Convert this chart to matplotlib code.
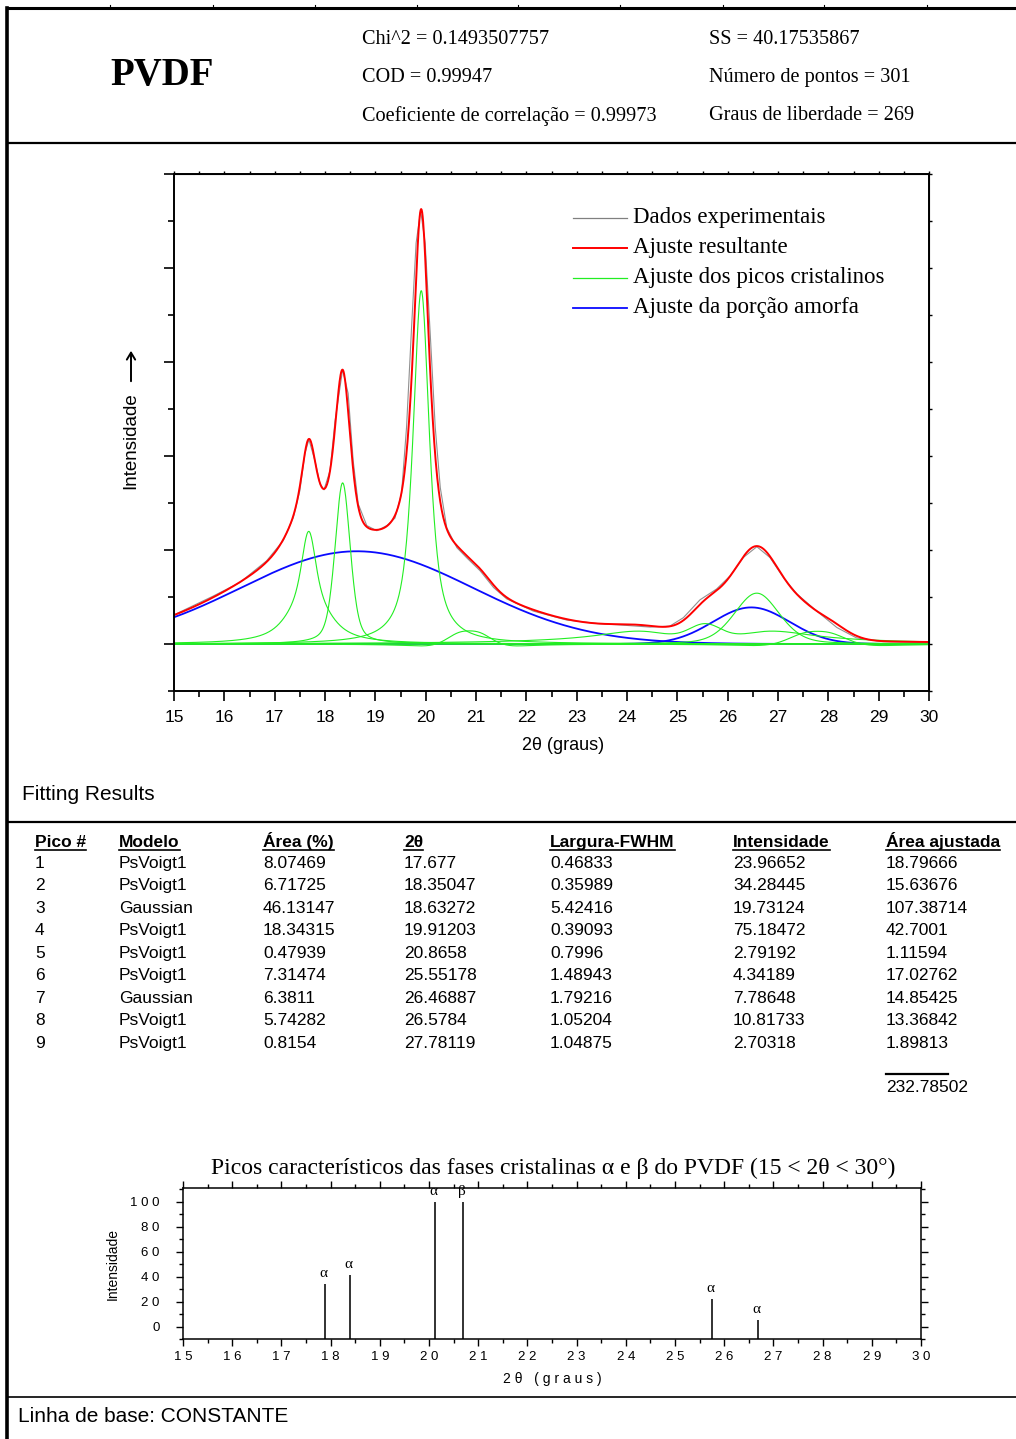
import numpy as np
import matplotlib
matplotlib.use("Agg")
import matplotlib.pyplot as plt
from matplotlib.lines import Line2D
from matplotlib.ticker import MultipleLocator, FuncFormatter

W, H = 1016, 1439
SERIF = ["Liberation Serif", "DejaVu Serif"]
SANS = ["Liberation Sans", "DejaVu Sans"]

# --- resultados do ajuste (tabela) ---
pico = [1, 2, 3, 4, 5, 6, 7, 8, 9]
modelo = ["PsVoigt1", "PsVoigt1", "Gaussian", "PsVoigt1", "PsVoigt1",
          "PsVoigt1", "Gaussian", "PsVoigt1", "PsVoigt1"]
area_pct = [8.07469, 6.71725, 46.13147, 18.34315, 0.47939, 7.31474, 6.3811, 5.74282, 0.8154]
centro = [17.677, 18.35047, 18.63272, 19.91203, 20.8658, 25.55178, 26.46887, 26.5784, 27.78119]
fwhm = [0.46833, 0.35989, 5.42416, 0.39093, 0.7996, 1.48943, 1.79216, 1.05204, 1.04875]
altura = [23.96652, 34.28445, 19.73124, 75.18472, 2.79192, 4.34189, 7.78648, 10.81733, 2.70318]
area_aj = [18.79666, 15.63676, 107.38714, 42.7001, 1.11594, 17.02762, 14.85425, 13.36842, 1.89813]
area_total = 232.78502

exp_2theta = [15.0, 15.78, 16.31, 16.84, 17.17, 17.37, 17.50, 17.60, 17.68, 17.80,
              17.90, 17.98, 18.10, 18.20, 18.35, 18.46, 18.56, 18.66, 18.83, 19.03,
              19.23, 19.39, 19.52, 19.62, 19.72, 19.81, 19.90, 19.99, 20.09, 20.19,
              20.29, 20.42, 20.62, 20.82, 21.08, 21.35, 21.61, 22.14, 22.80, 23.46,
              23.80, 24.46, 24.85, 25.12, 25.45, 25.78, 26.05, 26.31, 26.58, 26.84,
              27.11, 27.37, 27.77, 28.17, 28.56, 29.09, 29.89, 30.0]
exp_int = [6.2, 10.2, 13.1, 17.7, 22.0, 26.9, 32.6, 40.5, 43.5, 39.0,
           34.1, 32.8, 36.9, 47.5, 58.4, 53.3, 39.0, 29.8, 25.2, 24.1,
           25.2, 26.8, 32.0, 46.1, 67.4, 85.3, 92.2, 85.3, 66.1, 46.1,
           33.3, 24.7, 20.5, 18.3, 15.6, 12.0, 9.6, 7.0, 5.1, 4.3,
           4.1, 3.6, 3.8, 5.6, 9.4, 11.7, 14.5, 18.4, 20.7, 18.4,
           14.1, 10.7, 7.0, 3.5, 1.3, 0.5, 0.3, 0.3]

# --- picos de referencia alfa / beta ---
fase_pos = [17.89, 18.39, 20.12, 20.69, 25.75, 26.69]
fase_int = [34, 41, 100, 100, 22, 5]
fase_lbl = ["α", "α", "α", "β", "α", "α"]

stats_esq = ["Chi^2 = 0.1493507757", "COD = 0.99947", "Coeficiente de correlação = 0.99973"]
stats_dir = ["SS = 40.17535867", "Número de pontos = 301", "Graus de liberdade = 269"]


def fx(px):
    return px / W


def fy(py):
    return 1 - py / H


def linha(x0, y0, x1, y1, lw=1.5):
    fig.add_artist(Line2D([fx(x0), fx(x1)], [fy(y0), fy(y1)], color="black", lw=lw))


def texto(x, y, s, **kw):
    kw.setdefault("va", "center")
    return fig.text(fx(x), fy(y), s, **kw)


fig = plt.figure(figsize=(W / 100, H / 100), dpi=100)

# moldura
linha(8, 8, W, 8, 2.2)
linha(7, 8, 7, H, 2.6)
linha(8, 143, W, 143, 1.6)
linha(8, 822, W, 822, 1.6)
linha(8, 1397, W, 1397, 1.2)
for xm in [110, 213, 315, 417, 518, 620, 723, 824, 927]:
    linha(xm, 5, xm, 8, 0.8)

# cabecalho
texto(110, 76, "PVDF", family=SERIF, fontsize=28, fontweight="bold")
for i, s in enumerate(stats_esq):
    texto(362, 39 + i * 38.5, s, family=SERIF, fontsize=14.6)
for i, s in enumerate(stats_dir):
    texto(709, 39 + i * 38.5, s, family=SERIF, fontsize=14.6)

# --- grafico principal ---
x = np.linspace(15, 30, 1501)
cristalinos = []
amorfo = []
for m, xc, w, h, a in zip(modelo, centro, fwhm, altura, area_aj):
    g = np.exp(-4 * np.log(2) * ((x - xc) / w) ** 2)
    if m == "Gaussian":
        amorfo.append(h * g)
    else:
        lz = 1 / (1 + 4 * ((x - xc) / w) ** 2)
        IL = np.trapezoid(lz, x)
        IG = np.trapezoid(g, x)
        mu = (a / h - IG) / (IL - IG)
        cristalinos.append(h * (mu * lz + (1 - mu) * g))
total = np.sum(cristalinos, axis=0) + np.sum(amorfo, axis=0)

ax = fig.add_axes([fx(174), fy(691), fx(929 - 174), (691 - 174) / H])
for y in amorfo:
    ax.plot(x, y, color="#0a0aff", lw=1.3)
for y in cristalinos:
    ax.plot(x, y, color="#22ee22", lw=0.8)
ax.plot(exp_2theta, exp_int, color="#909090", lw=0.8)
ax.plot(x, total, color="#ff0000", lw=1.4)

ax.set_xlim(15, 30)
ax.set_ylim(-10, 100)
ax.xaxis.set_major_locator(MultipleLocator(1))
ax.xaxis.set_minor_locator(MultipleLocator(0.5))
ax.yaxis.set_major_locator(MultipleLocator(20))
ax.yaxis.set_minor_locator(MultipleLocator(10))
ax.set_yticklabels([])
ax.tick_params(which="major", direction="out", length=7.5, width=1.2)
ax.tick_params(which="minor", direction="out", length=4.5, width=1.2)
ax.tick_params(axis="x", labelsize=12.5, pad=6)
for lab in ax.get_xticklabels():
    lab.set_family(SANS)
for sp in ax.spines.values():
    sp.set_linewidth(1.4)
sx = ax.secondary_xaxis("top")
sx.xaxis.set_major_locator(MultipleLocator(0.5))
sx.tick_params(direction="out", length=2.5, width=1, labeltop=False)
sy = ax.secondary_yaxis("right")
sy.yaxis.set_major_locator(MultipleLocator(10))
sy.tick_params(direction="out", length=2.5, width=1, labelright=False)
ax.set_xlabel("2θ (graus)", family=SANS, fontsize=13)
ax.xaxis.set_label_coords((563 - 174) / 755, -(746 - 691) / 517)
ax.xaxis.label.set_va("center")
texto(131, 441, "Intensidade", family=SANS, fontsize=13.5, rotation=90, ha="center")
fig.add_artist(matplotlib.patches.FancyArrowPatch(
    (fx(131), fy(384)), (fx(131), fy(348)), transform=fig.transFigure,
    arrowstyle="->,head_length=5,head_width=3", lw=1.4, color="black"))

# legenda
leg = [("Dados experimentais", "#808080", 0.9), ("Ajuste resultante", "#ff0000", 1.4),
       ("Ajuste dos picos cristalinos", "#22ee22", 0.9), ("Ajuste da porção amorfa", "#0a0aff", 1.3)]
for i, (s, c, lw) in enumerate(leg):
    yy = 218 + i * 30
    fig.add_artist(Line2D([fx(573), fx(627)], [fy(yy), fy(yy)], color=c, lw=lw))
    texto(633, yy, s, family=SERIF, fontsize=16.5)

# --- tabela ---
texto(22, 795, "Fitting Results", family=SANS, fontsize=15)
cols = [35, 119, 263, 404, 550, 733, 886]
cab = ["Pico #", "Modelo", "Área (%)", "2θ", "Largura-FWHM", "Intensidade", "Área ajustada"]
cab_txt = [texto(cx, 847, s, family=SANS, fontsize=12.5, fontweight="bold", va="baseline")
           for cx, s in zip(cols, cab)]
linhas = zip(pico, modelo, area_pct, centro, fwhm, altura, area_aj)
for r, vals in enumerate(linhas):
    yy = 863.5 + r * 22.45
    for cx, v in zip(cols, vals):
        texto(cx, yy, str(v), family=SANS, fontsize=12.5)
linha(886, 1074, 948, 1074, 1.6)
texto(886, 1088, str(area_total), family=SANS, fontsize=12.5)

# --- picos caracteristicos ---
ax2 = fig.add_axes([fx(183), fy(1339), fx(921 - 183), (1339 - 1188) / H])
ax2.vlines(fase_pos, -10, fase_int, color="#222222", lw=1.3)
for p, v, s in zip(fase_pos, fase_int, fase_lbl):
    ax2.annotate(s, (p, v), xytext=(-1, 3), textcoords="offset points", ha="center",
                 va="bottom", family=SERIF, fontsize=11)
ax2.set_xlim(15, 30)
ax2.set_ylim(-10, 111)
ax2.xaxis.set_major_locator(MultipleLocator(1))
ax2.xaxis.set_minor_locator(MultipleLocator(0.5))
ax2.yaxis.set_major_locator(MultipleLocator(20))
ax2.yaxis.set_minor_locator(MultipleLocator(10))
espacado = FuncFormatter(lambda v, pos: " ".join(str(int(round(v)))))
ax2.xaxis.set_major_formatter(espacado)
ax2.yaxis.set_major_formatter(espacado)
ax2.tick_params(which="major", direction="out", length=5, width=1, labelsize=9.5, pad=4)
ax2.tick_params(which="minor", direction="out", length=3, width=1)
ax2.tick_params(axis="y", which="major", pad=12)
ax2.tick_params(axis="both", top=True, right=True, which="both")
for lab in ax2.get_xticklabels() + ax2.get_yticklabels():
    lab.set_family(SANS)
for sp in ax2.spines.values():
    sp.set_linewidth(1.1)
ax2.set_xlabel("2 θ   ( g r a u s )", family=SANS, fontsize=10, labelpad=6)
ax2.set_ylabel("Intensidade", family=SANS, fontsize=10)
ax2.yaxis.set_label_coords(-(183 - 113) / 738, 0.5)
ax2.yaxis.label.set_va("center")
texto(553, 1168, "Picos característicos das fases cristalinas α e β do PVDF (15 < 2θ < 30°)",
      family=SERIF, fontsize=17, ha="center")

texto(18, 1417, "Linha de base: CONSTANTE", family=SANS, fontsize=15)

# sublinhado dos titulos da tabela
fig.canvas.draw()
rend = fig.canvas.get_renderer()
for t in cab_txt:
    bb = t.get_window_extent(rend)
    yl = fy(850)
    fig.add_artist(Line2D([bb.x0 / W, bb.x1 / W], [yl, yl], color="black", lw=1.2))

fig.savefig("out.png", dpi=100)
